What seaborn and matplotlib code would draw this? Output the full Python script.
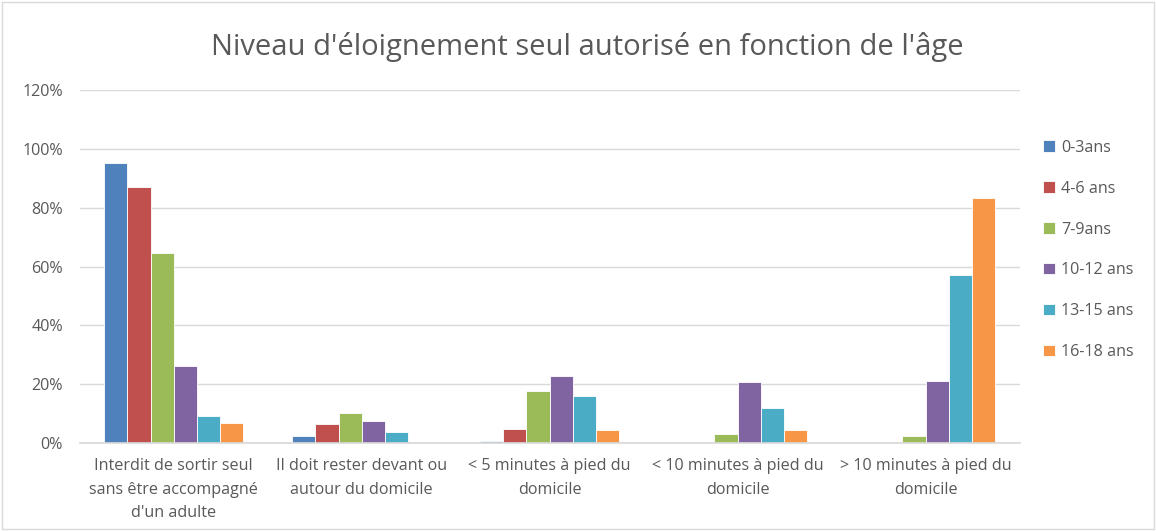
import pandas as pd
import matplotlib.pyplot as plt
import seaborn as sns
from matplotlib.patches import Rectangle
from matplotlib.ticker import PercentFormatter

# categories and series (in %)
categories = ["Interdit de sortir seul\nsans être accompagné\nd'un adulte",
              "Il doit rester devant ou\nautour du domicile",
              "< 5 minutes à pied du\ndomicile",
              "< 10 minutes à pied du\ndomicile",
              "> 10 minutes à pied du\ndomicile"]
age_groups = ["0-3ans", "4-6 ans", "7-9ans", "10-12 ans", "13-15 ans", "16-18 ans"]

ans_0_3 = [95.3, 2.4, 0.6, 0, 0]
ans_4_6 = [87.1, 6.3, 4.8, 0, 0]
ans_7_9 = [64.6, 10.2, 17.7, 3.1, 2.3]
ans_10_12 = [26.3, 7.5, 22.6, 20.8, 21.2]
ans_13_15 = [9.0, 3.6, 16.1, 11.9, 57.2]
ans_16_18 = [6.6, 0, 4.4, 4.4, 83.2]

colors = ["#4F81BD", "#C0504D", "#9BBB59", "#8064A2", "#4BACC6", "#F79646"]

series = [ans_0_3, ans_4_6, ans_7_9, ans_10_12, ans_13_15, ans_16_18]
rows = []
for age, vals in zip(age_groups, series):
    for cat, v in zip(categories, vals):
        rows.append({"Catégorie": cat, "Âge": age, "Pourcentage": v})
df = pd.DataFrame(rows)

sns.set_theme(style="white")
plt.rcParams["font.family"] = ["Open Sans", "DejaVu Sans"]

fig = plt.figure(figsize=(11.56, 5.31), dpi=100)
ax = fig.add_axes([0.069, 0.166, 0.813, 0.664])

sns.barplot(data=df, x="Catégorie", y="Pourcentage", hue="Âge", hue_order=age_groups,
            order=categories, palette=colors, width=0.74, gap=0, ax=ax,
            edgecolor="white", linewidth=0.6, saturation=1)

ax.set_ylim(0, 120)
ax.set_yticks(range(0, 121, 20))
ax.yaxis.set_major_formatter(PercentFormatter(decimals=0))
ax.set_xlim(-0.5, 4.5)
ax.yaxis.grid(True, color="#D9D9D9", linewidth=1)
ax.set_axisbelow(True)
for s in ["top", "right", "left"]:
    ax.spines[s].set_visible(False)
ax.spines["bottom"].set_color("#D9D9D9")
ax.tick_params(axis="both", length=0, colors="#595959", labelsize=11.6)
ax.tick_params(axis="y", pad=12)
ax.tick_params(axis="x", pad=11)
for lbl in ax.get_xticklabels():
    lbl.set_linespacing(1.62)
ax.set_xlabel("")
ax.set_ylabel("")

fig.suptitle("Niveau d'éloignement seul autorisé en fonction de l'âge",
             x=0.508, y=0.94, fontsize=21, color="#595959")

ax.legend(loc="center left", bbox_to_anchor=(1.01, 0.547), frameon=False,
          fontsize=11.6, labelcolor="#595959", handlelength=0.7, handleheight=0.7,
          handletextpad=0.4, labelspacing=1.55)

fig.patches.append(Rectangle((0.002, 0.003), 0.996, 0.994, transform=fig.transFigure,
                             fill=False, edgecolor="#D9D9D9", linewidth=1))

fig.savefig("out.png", dpi=100)
